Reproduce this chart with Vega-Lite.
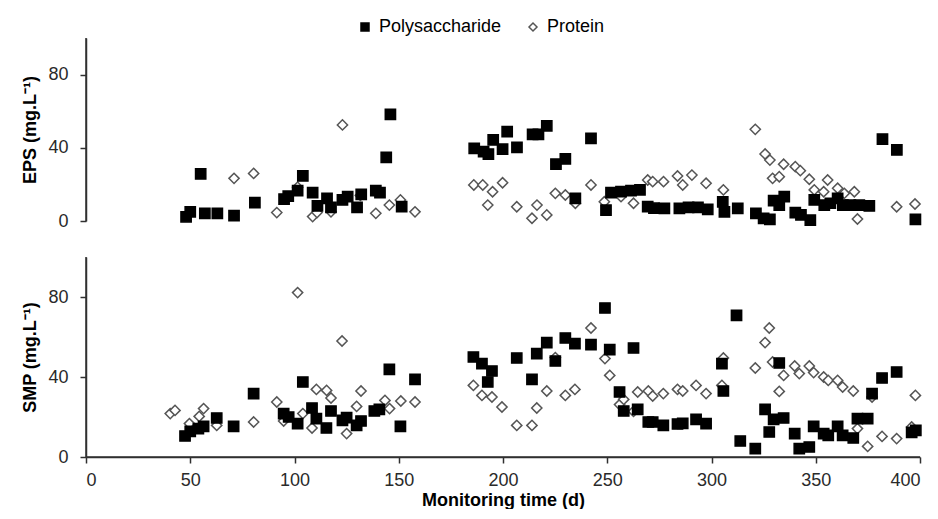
{
  "$schema": "https://vega.github.io/schema/vega-lite/v6.json",
  "padding": {"left": 21, "top": 18, "right": 0, "bottom": 0},
  "background": "white",
  "config": {
    "font": "Liberation Sans",
    "view": {"stroke": null},
    "axis": {
      "grid": false,
      "domainColor": "#303030",
      "domainWidth": 1.5,
      "tickColor": "#303030",
      "tickWidth": 1.5,
      "labelColor": "#2a2a2a",
      "labelFontSize": 18,
      "titleFontSize": 18,
      "titleFontWeight": "bold",
      "titleColor": "black",
      "tickSize": 6
    },
    "legend": {"labelFontSize": 18, "labelColor": "black"}
  },
  "spacing": 26,
  "datasets": {
    "pts": [
      {"panel": "EPS", "series": "Protein", "day": 71, "value": 23.3},
      {"panel": "EPS", "series": "Protein", "day": 80.4, "value": 26},
      {"panel": "EPS", "series": "Protein", "day": 91.5, "value": 4.6},
      {"panel": "EPS", "series": "Protein", "day": 101.5, "value": 18.5},
      {"panel": "EPS", "series": "Protein", "day": 108.7, "value": 2.4},
      {"panel": "EPS", "series": "Protein", "day": 110.8, "value": 4.6},
      {"panel": "EPS", "series": "Protein", "day": 117.5, "value": 5},
      {"panel": "EPS", "series": "Protein", "day": 123, "value": 52.5},
      {"panel": "EPS", "series": "Protein", "day": 131.6, "value": 14},
      {"panel": "EPS", "series": "Protein", "day": 139, "value": 4.2},
      {"panel": "EPS", "series": "Protein", "day": 145.5, "value": 8.7},
      {"panel": "EPS", "series": "Protein", "day": 150.8, "value": 11.5},
      {"panel": "EPS", "series": "Protein", "day": 157.8, "value": 5},
      {"panel": "EPS", "series": "Protein", "day": 186, "value": 19.7},
      {"panel": "EPS", "series": "Protein", "day": 190.3, "value": 19.7},
      {"panel": "EPS", "series": "Protein", "day": 192.7, "value": 8.7},
      {"panel": "EPS", "series": "Protein", "day": 195, "value": 16},
      {"panel": "EPS", "series": "Protein", "day": 199.8, "value": 20.9},
      {"panel": "EPS", "series": "Protein", "day": 206.6, "value": 7.8},
      {"panel": "EPS", "series": "Protein", "day": 213.9, "value": 1.5},
      {"panel": "EPS", "series": "Protein", "day": 216.3, "value": 8.7},
      {"panel": "EPS", "series": "Protein", "day": 221, "value": 3.3},
      {"panel": "EPS", "series": "Protein", "day": 225.1, "value": 15.1},
      {"panel": "EPS", "series": "Protein", "day": 229.9, "value": 14.2},
      {"panel": "EPS", "series": "Protein", "day": 234.7, "value": 9.7},
      {"panel": "EPS", "series": "Protein", "day": 242.2, "value": 19.7},
      {"panel": "EPS", "series": "Protein", "day": 248.6, "value": 10.5},
      {"panel": "EPS", "series": "Protein", "day": 256.6, "value": 13.3},
      {"panel": "EPS", "series": "Protein", "day": 262.6, "value": 9.7},
      {"panel": "EPS", "series": "Protein", "day": 269.4, "value": 22.4},
      {"panel": "EPS", "series": "Protein", "day": 271.8, "value": 21.5},
      {"panel": "EPS", "series": "Protein", "day": 277, "value": 21.5},
      {"panel": "EPS", "series": "Protein", "day": 283.7, "value": 24.6},
      {"panel": "EPS", "series": "Protein", "day": 286.2, "value": 19.7},
      {"panel": "EPS", "series": "Protein", "day": 290.6, "value": 25.1},
      {"panel": "EPS", "series": "Protein", "day": 297.4, "value": 20.6},
      {"panel": "EPS", "series": "Protein", "day": 305.7, "value": 17},
      {"panel": "EPS", "series": "Protein", "day": 321, "value": 50.1},
      {"panel": "EPS", "series": "Protein", "day": 325.7, "value": 36.6},
      {"panel": "EPS", "series": "Protein", "day": 328, "value": 33.3},
      {"panel": "EPS", "series": "Protein", "day": 329.3, "value": 23.3},
      {"panel": "EPS", "series": "Protein", "day": 332.5, "value": 24.2},
      {"panel": "EPS", "series": "Protein", "day": 334.6, "value": 31},
      {"panel": "EPS", "series": "Protein", "day": 340.2, "value": 29.7},
      {"panel": "EPS", "series": "Protein", "day": 342.6, "value": 27.5},
      {"panel": "EPS", "series": "Protein", "day": 346.9, "value": 22.8},
      {"panel": "EPS", "series": "Protein", "day": 349.3, "value": 17},
      {"panel": "EPS", "series": "Protein", "day": 353.8, "value": 16},
      {"panel": "EPS", "series": "Protein", "day": 355.7, "value": 22.4},
      {"panel": "EPS", "series": "Protein", "day": 360.5, "value": 17.9},
      {"panel": "EPS", "series": "Protein", "day": 363.7, "value": 15.1},
      {"panel": "EPS", "series": "Protein", "day": 368.5, "value": 16},
      {"panel": "EPS", "series": "Protein", "day": 370, "value": 1.1},
      {"panel": "EPS", "series": "Protein", "day": 388.8, "value": 7.8},
      {"panel": "EPS", "series": "Protein", "day": 397.6, "value": 9.3},
      {"panel": "EPS", "series": "Polysaccharide", "day": 48, "value": 2.3},
      {"panel": "EPS", "series": "Polysaccharide", "day": 50, "value": 5},
      {"panel": "EPS", "series": "Polysaccharide", "day": 55, "value": 25.7},
      {"panel": "EPS", "series": "Polysaccharide", "day": 57, "value": 4.2},
      {"panel": "EPS", "series": "Polysaccharide", "day": 63, "value": 4.2},
      {"panel": "EPS", "series": "Polysaccharide", "day": 71, "value": 3},
      {"panel": "EPS", "series": "Polysaccharide", "day": 81, "value": 10},
      {"panel": "EPS", "series": "Polysaccharide", "day": 95, "value": 12},
      {"panel": "EPS", "series": "Polysaccharide", "day": 97, "value": 13.6},
      {"panel": "EPS", "series": "Polysaccharide", "day": 101.5, "value": 16.6},
      {"panel": "EPS", "series": "Polysaccharide", "day": 104, "value": 24.6},
      {"panel": "EPS", "series": "Polysaccharide", "day": 108.7, "value": 15.5},
      {"panel": "EPS", "series": "Polysaccharide", "day": 111, "value": 8.2},
      {"panel": "EPS", "series": "Polysaccharide", "day": 115.6, "value": 12.4},
      {"panel": "EPS", "series": "Polysaccharide", "day": 117.5, "value": 7.5},
      {"panel": "EPS", "series": "Polysaccharide", "day": 123, "value": 11.5},
      {"panel": "EPS", "series": "Polysaccharide", "day": 125.5, "value": 13.3},
      {"panel": "EPS", "series": "Polysaccharide", "day": 130, "value": 7.5},
      {"panel": "EPS", "series": "Polysaccharide", "day": 132, "value": 14.6},
      {"panel": "EPS", "series": "Polysaccharide", "day": 139, "value": 16.6},
      {"panel": "EPS", "series": "Polysaccharide", "day": 141, "value": 15.5},
      {"panel": "EPS", "series": "Polysaccharide", "day": 144, "value": 34.8},
      {"panel": "EPS", "series": "Polysaccharide", "day": 146, "value": 58.3},
      {"panel": "EPS", "series": "Polysaccharide", "day": 151.4, "value": 7.8},
      {"panel": "EPS", "series": "Polysaccharide", "day": 186.2, "value": 39.7},
      {"panel": "EPS", "series": "Polysaccharide", "day": 190.7, "value": 37.9},
      {"panel": "EPS", "series": "Polysaccharide", "day": 193, "value": 36.6},
      {"panel": "EPS", "series": "Polysaccharide", "day": 195.3, "value": 44.3},
      {"panel": "EPS", "series": "Polysaccharide", "day": 199.8, "value": 39.3},
      {"panel": "EPS", "series": "Polysaccharide", "day": 202, "value": 48.8},
      {"panel": "EPS", "series": "Polysaccharide", "day": 206.7, "value": 40.3},
      {"panel": "EPS", "series": "Polysaccharide", "day": 214.2, "value": 47.4},
      {"panel": "EPS", "series": "Polysaccharide", "day": 217, "value": 47.4},
      {"panel": "EPS", "series": "Polysaccharide", "day": 221, "value": 52},
      {"panel": "EPS", "series": "Polysaccharide", "day": 225.4, "value": 31.1},
      {"panel": "EPS", "series": "Polysaccharide", "day": 229.9, "value": 33.9},
      {"panel": "EPS", "series": "Polysaccharide", "day": 234.7, "value": 12.4},
      {"panel": "EPS", "series": "Polysaccharide", "day": 242.2, "value": 45.2},
      {"panel": "EPS", "series": "Polysaccharide", "day": 249.4, "value": 6},
      {"panel": "EPS", "series": "Polysaccharide", "day": 251.8, "value": 15.5},
      {"panel": "EPS", "series": "Polysaccharide", "day": 256.6, "value": 16},
      {"panel": "EPS", "series": "Polysaccharide", "day": 261.4, "value": 16.6},
      {"panel": "EPS", "series": "Polysaccharide", "day": 265.7, "value": 17},
      {"panel": "EPS", "series": "Polysaccharide", "day": 269.4, "value": 7.8},
      {"panel": "EPS", "series": "Polysaccharide", "day": 272.4, "value": 7},
      {"panel": "EPS", "series": "Polysaccharide", "day": 277.4, "value": 6.9},
      {"panel": "EPS", "series": "Polysaccharide", "day": 284.6, "value": 6.9},
      {"panel": "EPS", "series": "Polysaccharide", "day": 289, "value": 7.5},
      {"panel": "EPS", "series": "Polysaccharide", "day": 293.5, "value": 7.5},
      {"panel": "EPS", "series": "Polysaccharide", "day": 298.2, "value": 6.4},
      {"panel": "EPS", "series": "Polysaccharide", "day": 305.4, "value": 10.5},
      {"panel": "EPS", "series": "Polysaccharide", "day": 306.2, "value": 5},
      {"panel": "EPS", "series": "Polysaccharide", "day": 312.6, "value": 6.9},
      {"panel": "EPS", "series": "Polysaccharide", "day": 321.3, "value": 4.2},
      {"panel": "EPS", "series": "Polysaccharide", "day": 325, "value": 1.5},
      {"panel": "EPS", "series": "Polysaccharide", "day": 328, "value": 0.9},
      {"panel": "EPS", "series": "Polysaccharide", "day": 329.8, "value": 11.1},
      {"panel": "EPS", "series": "Polysaccharide", "day": 332.5, "value": 8.7},
      {"panel": "EPS", "series": "Polysaccharide", "day": 334.9, "value": 13.3},
      {"panel": "EPS", "series": "Polysaccharide", "day": 340.2, "value": 4.6},
      {"panel": "EPS", "series": "Polysaccharide", "day": 342.9, "value": 3.3},
      {"panel": "EPS", "series": "Polysaccharide", "day": 347.4, "value": 0.5},
      {"panel": "EPS", "series": "Polysaccharide", "day": 349.3, "value": 11.5},
      {"panel": "EPS", "series": "Polysaccharide", "day": 354.1, "value": 8.7},
      {"panel": "EPS", "series": "Polysaccharide", "day": 357, "value": 9.7},
      {"panel": "EPS", "series": "Polysaccharide", "day": 360.5, "value": 12.4},
      {"panel": "EPS", "series": "Polysaccharide", "day": 363, "value": 8.7},
      {"panel": "EPS", "series": "Polysaccharide", "day": 366.6, "value": 8.7},
      {"panel": "EPS", "series": "Polysaccharide", "day": 370.9, "value": 8.7},
      {"panel": "EPS", "series": "Polysaccharide", "day": 375.7, "value": 8.2},
      {"panel": "EPS", "series": "Polysaccharide", "day": 382, "value": 44.8},
      {"panel": "EPS", "series": "Polysaccharide", "day": 388.9, "value": 38.8},
      {"panel": "EPS", "series": "Polysaccharide", "day": 397.8, "value": 0.9},
      {"panel": "SMP", "series": "Protein", "day": 40.4, "value": 21.7},
      {"panel": "SMP", "series": "Protein", "day": 42.7, "value": 23.3},
      {"panel": "SMP", "series": "Protein", "day": 49.6, "value": 16.7},
      {"panel": "SMP", "series": "Protein", "day": 54.3, "value": 20.3},
      {"panel": "SMP", "series": "Protein", "day": 56.4, "value": 24.2},
      {"panel": "SMP", "series": "Protein", "day": 62.7, "value": 15.8},
      {"panel": "SMP", "series": "Protein", "day": 80.4, "value": 17.5},
      {"panel": "SMP", "series": "Protein", "day": 91.5, "value": 27.5},
      {"panel": "SMP", "series": "Protein", "day": 94.8, "value": 18},
      {"panel": "SMP", "series": "Protein", "day": 101.5, "value": 82.2},
      {"panel": "SMP", "series": "Protein", "day": 104, "value": 21.7},
      {"panel": "SMP", "series": "Protein", "day": 108.4, "value": 14.5},
      {"panel": "SMP", "series": "Protein", "day": 110.5, "value": 33.8},
      {"panel": "SMP", "series": "Protein", "day": 115.4, "value": 33.3},
      {"panel": "SMP", "series": "Protein", "day": 117.5, "value": 29.5},
      {"panel": "SMP", "series": "Protein", "day": 122.8, "value": 58},
      {"panel": "SMP", "series": "Protein", "day": 125, "value": 11.7},
      {"panel": "SMP", "series": "Protein", "day": 129.8, "value": 25.3},
      {"panel": "SMP", "series": "Protein", "day": 131.9, "value": 33},
      {"panel": "SMP", "series": "Protein", "day": 143.4, "value": 28.3},
      {"panel": "SMP", "series": "Protein", "day": 145.6, "value": 24.2},
      {"panel": "SMP", "series": "Protein", "day": 151, "value": 28},
      {"panel": "SMP", "series": "Protein", "day": 157.8, "value": 27.5},
      {"panel": "SMP", "series": "Protein", "day": 185.8, "value": 35.8},
      {"panel": "SMP", "series": "Protein", "day": 189.9, "value": 30.8},
      {"panel": "SMP", "series": "Protein", "day": 194.7, "value": 30},
      {"panel": "SMP", "series": "Protein", "day": 199.5, "value": 25},
      {"panel": "SMP", "series": "Protein", "day": 206.6, "value": 15.8},
      {"panel": "SMP", "series": "Protein", "day": 213.9, "value": 15.8},
      {"panel": "SMP", "series": "Protein", "day": 216.2, "value": 24.5},
      {"panel": "SMP", "series": "Protein", "day": 221, "value": 33},
      {"panel": "SMP", "series": "Protein", "day": 225.1, "value": 49.7},
      {"panel": "SMP", "series": "Protein", "day": 229.9, "value": 30.8},
      {"panel": "SMP", "series": "Protein", "day": 234.5, "value": 33.8},
      {"panel": "SMP", "series": "Protein", "day": 242.2, "value": 64.5},
      {"panel": "SMP", "series": "Protein", "day": 248.9, "value": 49.2},
      {"panel": "SMP", "series": "Protein", "day": 251.2, "value": 40.8},
      {"panel": "SMP", "series": "Protein", "day": 255.9, "value": 26.2},
      {"panel": "SMP", "series": "Protein", "day": 257.9, "value": 28.8},
      {"panel": "SMP", "series": "Protein", "day": 262.6, "value": 22.8},
      {"panel": "SMP", "series": "Protein", "day": 264.6, "value": 32.5},
      {"panel": "SMP", "series": "Protein", "day": 269.7, "value": 33},
      {"panel": "SMP", "series": "Protein", "day": 271.8, "value": 30.5},
      {"panel": "SMP", "series": "Protein", "day": 276.9, "value": 31.7},
      {"panel": "SMP", "series": "Protein", "day": 283.7, "value": 33.8},
      {"panel": "SMP", "series": "Protein", "day": 286.2, "value": 33},
      {"panel": "SMP", "series": "Protein", "day": 292.6, "value": 35.8},
      {"panel": "SMP", "series": "Protein", "day": 297.4, "value": 31.7},
      {"panel": "SMP", "series": "Protein", "day": 305, "value": 35.8},
      {"panel": "SMP", "series": "Protein", "day": 305.7, "value": 49.5},
      {"panel": "SMP", "series": "Protein", "day": 321, "value": 44.5},
      {"panel": "SMP", "series": "Protein", "day": 325.7, "value": 57.2},
      {"panel": "SMP", "series": "Protein", "day": 327.7, "value": 64.5},
      {"panel": "SMP", "series": "Protein", "day": 329.3, "value": 47.5},
      {"panel": "SMP", "series": "Protein", "day": 332.5, "value": 32.8},
      {"panel": "SMP", "series": "Protein", "day": 334.6, "value": 40.8},
      {"panel": "SMP", "series": "Protein", "day": 339.9, "value": 45.5},
      {"panel": "SMP", "series": "Protein", "day": 342.1, "value": 41.7},
      {"panel": "SMP", "series": "Protein", "day": 346.9, "value": 45.5},
      {"panel": "SMP", "series": "Protein", "day": 349, "value": 42.2},
      {"panel": "SMP", "series": "Protein", "day": 353.8, "value": 40},
      {"panel": "SMP", "series": "Protein", "day": 356, "value": 38.3},
      {"panel": "SMP", "series": "Protein", "day": 360.5, "value": 38.3},
      {"panel": "SMP", "series": "Protein", "day": 362.9, "value": 35},
      {"panel": "SMP", "series": "Protein", "day": 368, "value": 33},
      {"panel": "SMP", "series": "Protein", "day": 370, "value": 14.2},
      {"panel": "SMP", "series": "Protein", "day": 374.9, "value": 5.3},
      {"panel": "SMP", "series": "Protein", "day": 377, "value": 30},
      {"panel": "SMP", "series": "Protein", "day": 381.8, "value": 10.3},
      {"panel": "SMP", "series": "Protein", "day": 388.8, "value": 9.2},
      {"panel": "SMP", "series": "Protein", "day": 396, "value": 15},
      {"panel": "SMP", "series": "Protein", "day": 397.8, "value": 30.8},
      {"panel": "SMP", "series": "Polysaccharide", "day": 47.5, "value": 10.5},
      {"panel": "SMP", "series": "Polysaccharide", "day": 50, "value": 12.8},
      {"panel": "SMP", "series": "Polysaccharide", "day": 53.9, "value": 14.2},
      {"panel": "SMP", "series": "Polysaccharide", "day": 56.4, "value": 15.3},
      {"panel": "SMP", "series": "Polysaccharide", "day": 62.7, "value": 19.5},
      {"panel": "SMP", "series": "Polysaccharide", "day": 70.8, "value": 15.3},
      {"panel": "SMP", "series": "Polysaccharide", "day": 80.4, "value": 31.7},
      {"panel": "SMP", "series": "Polysaccharide", "day": 94.8, "value": 21.7},
      {"panel": "SMP", "series": "Polysaccharide", "day": 97.2, "value": 20},
      {"panel": "SMP", "series": "Polysaccharide", "day": 101.5, "value": 16.7},
      {"panel": "SMP", "series": "Polysaccharide", "day": 104, "value": 37.5},
      {"panel": "SMP", "series": "Polysaccharide", "day": 108.4, "value": 24.5},
      {"panel": "SMP", "series": "Polysaccharide", "day": 110.5, "value": 19.2},
      {"panel": "SMP", "series": "Polysaccharide", "day": 115.3, "value": 14.5},
      {"panel": "SMP", "series": "Polysaccharide", "day": 117.5, "value": 23},
      {"panel": "SMP", "series": "Polysaccharide", "day": 123, "value": 18.3},
      {"panel": "SMP", "series": "Polysaccharide", "day": 125, "value": 19.7},
      {"panel": "SMP", "series": "Polysaccharide", "day": 129.8, "value": 15.8},
      {"panel": "SMP", "series": "Polysaccharide", "day": 131.9, "value": 18},
      {"panel": "SMP", "series": "Polysaccharide", "day": 138.3, "value": 23},
      {"panel": "SMP", "series": "Polysaccharide", "day": 140.7, "value": 23.8},
      {"panel": "SMP", "series": "Polysaccharide", "day": 145.5, "value": 43.8},
      {"panel": "SMP", "series": "Polysaccharide", "day": 150.8, "value": 15.3},
      {"panel": "SMP", "series": "Polysaccharide", "day": 157.8, "value": 38.8},
      {"panel": "SMP", "series": "Polysaccharide", "day": 185.8, "value": 50},
      {"panel": "SMP", "series": "Polysaccharide", "day": 189.9, "value": 46.7},
      {"panel": "SMP", "series": "Polysaccharide", "day": 192.7, "value": 37.5},
      {"panel": "SMP", "series": "Polysaccharide", "day": 194.7, "value": 43},
      {"panel": "SMP", "series": "Polysaccharide", "day": 206.6, "value": 49.5},
      {"panel": "SMP", "series": "Polysaccharide", "day": 213.9, "value": 38.8},
      {"panel": "SMP", "series": "Polysaccharide", "day": 216.2, "value": 51.7},
      {"panel": "SMP", "series": "Polysaccharide", "day": 221, "value": 57.2},
      {"panel": "SMP", "series": "Polysaccharide", "day": 225.1, "value": 48},
      {"panel": "SMP", "series": "Polysaccharide", "day": 229.9, "value": 59.5},
      {"panel": "SMP", "series": "Polysaccharide", "day": 234.5, "value": 56.7},
      {"panel": "SMP", "series": "Polysaccharide", "day": 242.2, "value": 56.2},
      {"panel": "SMP", "series": "Polysaccharide", "day": 248.9, "value": 74.5},
      {"panel": "SMP", "series": "Polysaccharide", "day": 251.2, "value": 53.7},
      {"panel": "SMP", "series": "Polysaccharide", "day": 255.9, "value": 32.5},
      {"panel": "SMP", "series": "Polysaccharide", "day": 257.9, "value": 23},
      {"panel": "SMP", "series": "Polysaccharide", "day": 262.6, "value": 54.5},
      {"panel": "SMP", "series": "Polysaccharide", "day": 264.6, "value": 23.8},
      {"panel": "SMP", "series": "Polysaccharide", "day": 269.7, "value": 17.5},
      {"panel": "SMP", "series": "Polysaccharide", "day": 271.8, "value": 17.5},
      {"panel": "SMP", "series": "Polysaccharide", "day": 276.9, "value": 15.8},
      {"panel": "SMP", "series": "Polysaccharide", "day": 283.7, "value": 16.5},
      {"panel": "SMP", "series": "Polysaccharide", "day": 286.2, "value": 16.8},
      {"panel": "SMP", "series": "Polysaccharide", "day": 292.6, "value": 18.8},
      {"panel": "SMP", "series": "Polysaccharide", "day": 297.4, "value": 16.7},
      {"panel": "SMP", "series": "Polysaccharide", "day": 305, "value": 46.7},
      {"panel": "SMP", "series": "Polysaccharide", "day": 305.7, "value": 33},
      {"panel": "SMP", "series": "Polysaccharide", "day": 312, "value": 70.8},
      {"panel": "SMP", "series": "Polysaccharide", "day": 313.8, "value": 8},
      {"panel": "SMP", "series": "Polysaccharide", "day": 321, "value": 4.2},
      {"panel": "SMP", "series": "Polysaccharide", "day": 325.7, "value": 23.8},
      {"panel": "SMP", "series": "Polysaccharide", "day": 327.7, "value": 12.5},
      {"panel": "SMP", "series": "Polysaccharide", "day": 329.8, "value": 18.8},
      {"panel": "SMP", "series": "Polysaccharide", "day": 332.5, "value": 47},
      {"panel": "SMP", "series": "Polysaccharide", "day": 334.6, "value": 19.5},
      {"panel": "SMP", "series": "Polysaccharide", "day": 339.9, "value": 11.7},
      {"panel": "SMP", "series": "Polysaccharide", "day": 342.1, "value": 4.2},
      {"panel": "SMP", "series": "Polysaccharide", "day": 346.9, "value": 5},
      {"panel": "SMP", "series": "Polysaccharide", "day": 349, "value": 15.3},
      {"panel": "SMP", "series": "Polysaccharide", "day": 353.8, "value": 11.7},
      {"panel": "SMP", "series": "Polysaccharide", "day": 356, "value": 10.8},
      {"panel": "SMP", "series": "Polysaccharide", "day": 360.5, "value": 15.3},
      {"panel": "SMP", "series": "Polysaccharide", "day": 362.9, "value": 10.8},
      {"panel": "SMP", "series": "Polysaccharide", "day": 368, "value": 9.5},
      {"panel": "SMP", "series": "Polysaccharide", "day": 370, "value": 19.2},
      {"panel": "SMP", "series": "Polysaccharide", "day": 374.9, "value": 19.2},
      {"panel": "SMP", "series": "Polysaccharide", "day": 377, "value": 31.7},
      {"panel": "SMP", "series": "Polysaccharide", "day": 381.8, "value": 39.5},
      {"panel": "SMP", "series": "Polysaccharide", "day": 388.8, "value": 42.5},
      {"panel": "SMP", "series": "Polysaccharide", "day": 396, "value": 12.3},
      {"panel": "SMP", "series": "Polysaccharide", "day": 398, "value": 13.3}
    ]
  },
  "vconcat": [
    {
      "width": 834,
      "height": 183,
      "layer": [
        {
          "data": {"name": "pts"},
          "transform": [{"filter": "datum.panel === 'EPS'"}],
          "mark": {"type": "point", "filled": false, "opacity": 1, "strokeWidth": 1.5, "size": 105},
          "encoding": {
            "x": {"field": "day", "type": "quantitative", "scale": {"domain": [0, 400]}, "axis": null},
            "y": {
              "field": "value", "type": "quantitative", "scale": {"domain": [0, 100]},
              "axis": {"values": [0, 20, 40, 60, 80, 100], "title": "EPS (mg.L⁻¹)", "labelPadding": 12, "titlePadding": 8,
                       "encode": {"ticks": {"update": {"x2": {"value": 6}}}}}
            },
            "shape": {
              "field": "series", "type": "nominal",
              "scale": {"domain": ["Polysaccharide", "Protein"], "range": ["square", "diamond"]},
              "legend": {"orient": "none", "legendX": 270, "legendY": -20, "direction": "horizontal", "title": null,
                         "symbolSize": 64, "symbolStrokeWidth": 1.5, "columnPadding": 22, "labelOffset": 5}
            },
            "fill": {"field": "series", "type": "nominal", "scale": {"domain": ["Polysaccharide", "Protein"], "range": ["black", "white"]}},
            "stroke": {"field": "series", "type": "nominal", "scale": {"domain": ["Polysaccharide", "Protein"], "range": ["black", "#555555"]}}
          }
        },
        {
          "data": {"values": [{}]},
          "mark": {"type": "rule", "color": "#303030", "strokeWidth": 1.5},
          "encoding": {
            "x": {"datum": 0, "type": "quantitative"},
            "y": {"datum": 0, "type": "quantitative"},
            "y2": {"datum": 100}
          }
        }
      ]
    },
    {
      "width": 834,
      "height": 200,
      "layer": [
        {
          "data": {"name": "pts"},
          "transform": [{"filter": "datum.panel === 'SMP'"}],
          "mark": {"type": "point", "filled": false, "opacity": 1, "strokeWidth": 1.5, "size": 105},
          "encoding": {
            "x": {
              "field": "day", "type": "quantitative", "scale": {"domain": [0, 400]},
              "axis": {"values": [0, 50, 100, 150, 200, 250, 300, 350, 400], "title": "Monitoring time (d)", "labelPadding": 8, "titlePadding": 2,
                       "encode": {"ticks": {"update": {"y2": {"value": -6}}}}}
            },
            "y": {
              "field": "value", "type": "quantitative", "scale": {"domain": [0, 100]},
              "axis": {"values": [0, 20, 40, 60, 80, 100], "title": "SMP (mg.L⁻¹)", "labelPadding": 12, "titlePadding": 8,
                       "encode": {"ticks": {"update": {"x2": {"value": 6}}}}}
            },
            "shape": {"field": "series", "type": "nominal", "scale": {"domain": ["Polysaccharide", "Protein"], "range": ["square", "diamond"]}, "legend": null},
            "fill": {"field": "series", "type": "nominal", "scale": {"domain": ["Polysaccharide", "Protein"], "range": ["black", "white"]}, "legend": null},
            "stroke": {"field": "series", "type": "nominal", "scale": {"domain": ["Polysaccharide", "Protein"], "range": ["black", "#555555"]}, "legend": null}
          }
        },
        {
          "data": {"values": [{}]},
          "mark": {"type": "rule", "color": "#303030", "strokeWidth": 1.5},
          "encoding": {
            "x": {"datum": 0, "type": "quantitative"},
            "y": {"datum": 0, "type": "quantitative"},
            "y2": {"datum": 100}
          }
        },
        {
          "data": {"values": [{}]},
          "mark": {"type": "rule", "color": "#303030", "strokeWidth": 1.5},
          "encoding": {
            "x": {"datum": 0, "type": "quantitative"},
            "x2": {"datum": 400},
            "y": {"datum": 0, "type": "quantitative"}
          }
        }
      ]
    }
  ]
}
